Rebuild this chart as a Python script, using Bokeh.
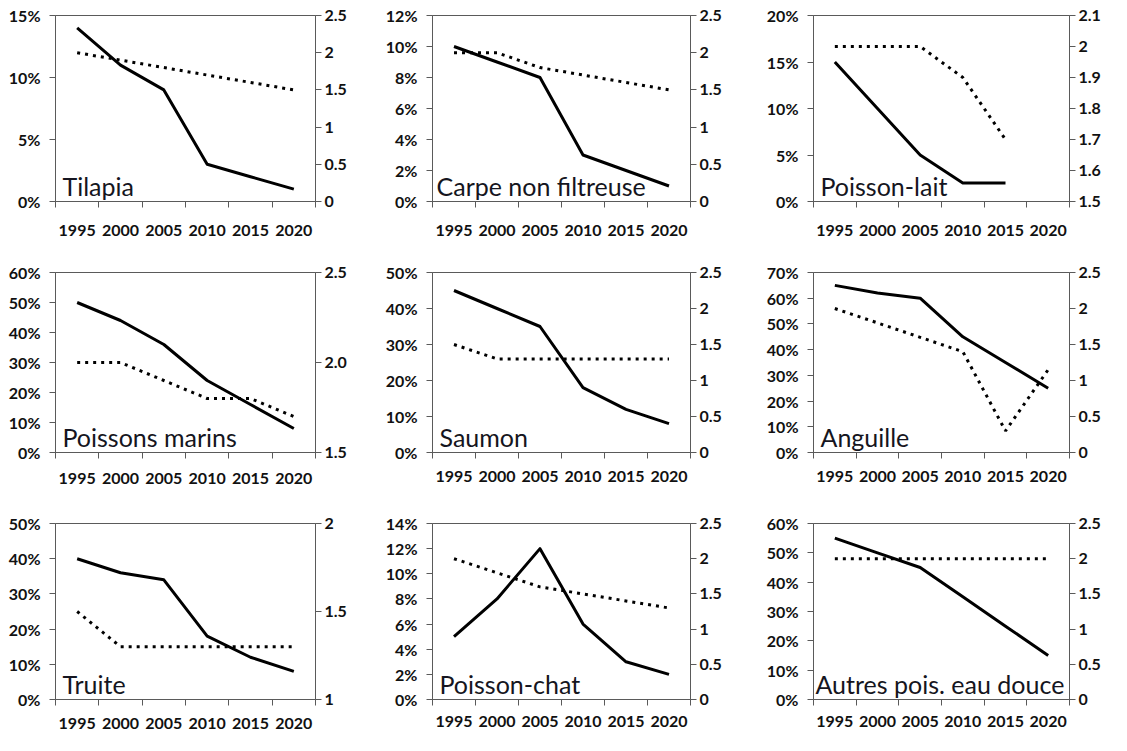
from bokeh.plotting import figure
from bokeh.layouts import gridplot
from bokeh.models import (Range1d, LinearAxis, FixedTicker, PrintfTickFormatter,
                          CustomJSTickFormatter, Label)
from bokeh.embed import file_html
from bokeh.resources import INLINE

years = ["1995", "2000", "2005", "2010", "2015", "2020"]

names = ["Tilapia", "Carpe non filtreuse", "Poisson-lait",
         "Poissons marins", "Saumon", "Anguille",
         "Truite", "Poisson-chat", "Autres pois. eau douce"]

# solid line: share (%), left axis
tilapia_share = [14, 11, 9, 3, 2, 1]
carpe_share = [10, 9, 8, 3, 2, 1]
lait_share = [15, 10, 5, 2, 2]
marins_share = [50, 44, 36, 24, 16, 8]
saumon_share = [45, 40, 35, 18, 12, 8]
anguille_share = [65, 62, 60, 45, 35, 25]
truite_share = [40, 36, 34, 18, 12, 8]
chat_share = [5, 8, 12, 6, 3, 2]
autres_share = [55, 50, 45, 35, 25, 15]

# dotted line: ratio, right axis
tilapia_ratio = [2.0, 1.9, 1.8, 1.7, 1.6, 1.5]
carpe_ratio = [2.0, 2.0, 1.8, 1.7, 1.6, 1.5]
lait_ratio = [2.0, 2.0, 2.0, 1.9, 1.7]
marins_ratio = [2.0, 2.0, 1.9, 1.8, 1.8, 1.7]
saumon_ratio = [1.5, 1.3, 1.3, 1.3, 1.3, 1.3]
anguille_ratio = [2.0, 1.8, 1.6, 1.4, 0.3, 1.15]
truite_ratio = [1.5, 1.3, 1.3, 1.3, 1.3, 1.3]
chat_ratio = [2.0, 1.8, 1.6, 1.5, 1.4, 1.3]
autres_ratio = [2.0, 2.0, 2.0, 2.0, 2.0, 2.0]

shares = [tilapia_share, carpe_share, lait_share, marins_share, saumon_share,
          anguille_share, truite_share, chat_share, autres_share]
ratios = [tilapia_ratio, carpe_ratio, lait_ratio, marins_ratio, saumon_ratio,
          anguille_ratio, truite_ratio, chat_ratio, autres_ratio]

# axis scales
left_max = [15, 12, 20, 60, 50, 70, 50, 14, 60]
left_step = [5, 2, 5, 10, 10, 10, 10, 2, 10]
right_min = [0, 0, 1.5, 1.5, 0, 0, 1, 0, 0]
right_max = [2.5, 2.5, 2.1, 2.5, 2.5, 2.5, 2, 2.5, 2.5]
right_step = [0.5, 0.5, 0.1, 0.5, 0.5, 0.5, 0.5, 0.5, 0.5]
right_fixed = [False, False, False, True, False, False, False, False, False]

# layout geometry (width, height, left, right, top, bottom, x-label standoff, name offset)
geom = [
    (370, 246, 52, 55, 15, 45, 17, 7), (370, 246, 55, 50, 15, 45, 17, 4), (370, 246, 65, 41, 15, 45, 17, 7),
    (370, 246, 55, 51, 20, 40, 14, 7), (370, 246, 62, 45, 26, 36, 12, 7), (370, 246, 73, 35, 26, 36, 12, 7),
    (370, 243, 55, 51, 25, 36, 12, 7), (370, 243, 62, 45, 31, 34, 10, 7), (370, 243, 73, 35, 31, 34, 10, 2),
]

TICK_FONT = "Lato"
AX_COLOR = "#5a5a5a"


def ticks_between(a, b, step):
    out = []
    n = int(round((b - a) / step))
    for k in range(n + 1):
        out.append(round(a + k * step, 4))
    return out


def style_axis(ax):
    ax.axis_line_color = AX_COLOR
    ax.major_tick_line_color = AX_COLOR
    ax.major_label_text_font = TICK_FONT
    ax.major_label_text_font_style = "bold"
    ax.major_label_text_font_size = "16px"
    ax.major_label_text_color = "#111111"
    ax.axis_label_standoff = 0


figs = []
for i in range(9):
    w, h, bl, br, bt, bb, xs_off, name_off = geom[i]
    p = figure(width=w, height=h, output_backend="svg", toolbar_location=None,
               min_border_left=bl, min_border_right=br, min_border_top=bt,
               min_border_bottom=bb, x_range=Range1d(0, len(years)),
               y_range=Range1d(0, left_max[i]), tools="")
    p.background_fill_color = "white"
    p.border_fill_color = "white"
    p.outline_line_color = AX_COLOR
    p.outline_line_width = 1
    p.xgrid.visible = False
    p.ygrid.visible = False

    centers = [k + 0.5 for k in range(len(years))]
    bounds = [k for k in range(len(years) + 1)]

    xa = p.xaxis[0]
    xa.ticker = FixedTicker(ticks=centers, minor_ticks=bounds)
    xa.major_label_overrides = {c: y for c, y in zip(centers, years)}
    style_axis(xa)
    xa.major_tick_out = 0
    xa.major_tick_in = 0
    xa.minor_tick_out = 6
    xa.minor_tick_in = 0
    xa.major_label_standoff = xs_off
    xa.minor_tick_line_color = AX_COLOR

    ya = p.yaxis[0]
    ya.ticker = FixedTicker(ticks=ticks_between(0, left_max[i], left_step[i]))
    ya.formatter = PrintfTickFormatter(format="%d%%")
    style_axis(ya)
    ya.major_tick_out = 6
    ya.major_tick_in = 0
    ya.minor_tick_out = 0
    ya.minor_tick_in = 0
    ya.major_label_standoff = 9

    p.extra_y_ranges = {"right": Range1d(right_min[i], right_max[i])}
    if right_fixed[i]:
        fmt = CustomJSTickFormatter(code="return tick.toFixed(1);")
    else:
        fmt = CustomJSTickFormatter(code="return String(Number(tick.toFixed(2)));")
    ra = LinearAxis(y_range_name="right",
                    ticker=FixedTicker(ticks=ticks_between(right_min[i], right_max[i], right_step[i])),
                    formatter=fmt)
    style_axis(ra)
    ra.major_tick_out = 6
    ra.major_tick_in = 0
    ra.minor_tick_out = 0
    ra.minor_tick_in = 0
    ra.major_label_standoff = 3
    p.add_layout(ra, "right")

    xs_s = [k + 0.5 for k in range(len(shares[i]))]
    xs_r = [k + 0.5 for k in range(len(ratios[i]))]
    p.line(xs_r, ratios[i], y_range_name="right", line_color="black",
           line_width=3, line_dash="3 5")
    p.line(xs_s, shares[i], line_color="black", line_width=3, line_join="round")

    lab = Label(x=0, y=0, x_offset=name_off, y_offset=1, text=names[i],
                text_font="Lato", text_font_size="25px",
                text_color="#151520", text_baseline="bottom", text_align="left")
    p.add_layout(lab)
    figs.append(p)

grid = gridplot([figs[0:3], figs[3:6], figs[6:9]], toolbar_location=None)

open("out.html", "w").write(file_html(grid, INLINE))
